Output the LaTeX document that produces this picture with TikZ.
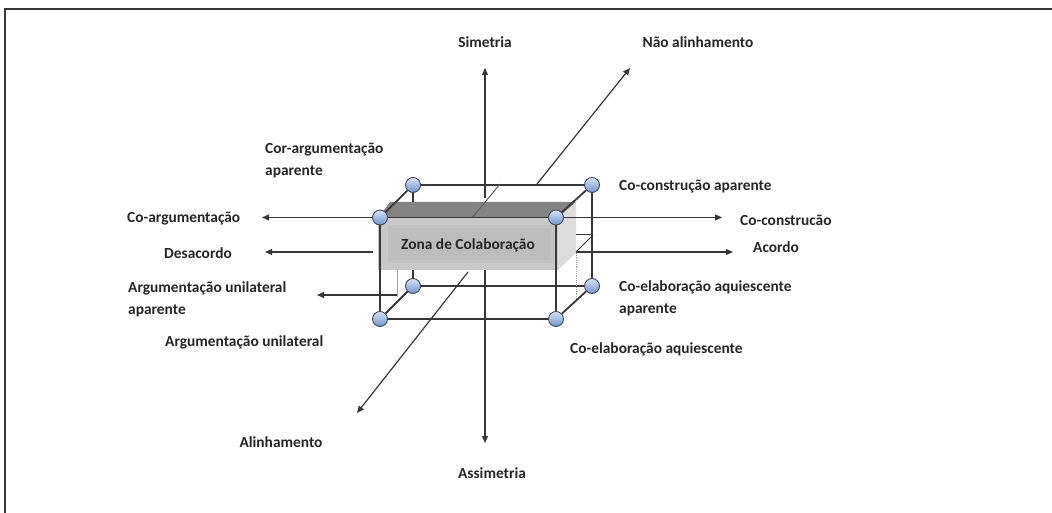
\documentclass[tikz,border=0pt]{standalone}
\usepackage{fontspec}
\setmainfont{Carlito}
\usetikzlibrary{arrows.meta}
\pgfdeclarelayer{axeslayer}
\pgfdeclarelayer{boxlayer}
\pgfdeclarelayer{edgelayer}
\pgfsetlayers{axeslayer,boxlayer,edgelayer,main}
\definecolor{txt}{RGB}{38,38,38}
\definecolor{edge}{RGB}{55,55,55}
\definecolor{topf}{RGB}{132,132,132}
\definecolor{frontf}{RGB}{200,200,200}
\definecolor{innerf}{RGB}{189,189,189}
\definecolor{sidef}{RGB}{220,220,220}
\definecolor{balltop}{RGB}{216,228,246}
\definecolor{ballbot}{RGB}{112,146,206}
\definecolor{ballrim}{RGB}{60,72,96}
\definecolor{faint}{RGB}{165,165,165}
\definecolor{seethru}{RGB}{95,95,95}
\begin{document}
\begin{tikzpicture}[x=1pt,y=-1pt,
  lbl/.style={font=\fontsize{15.4}{22}\selectfont\bfseries, text=txt, inner sep=0pt, align=left},
  axis/.style={draw=edge, line width=1.2pt, -{Triangle[length=7pt,width=6pt]}},
  cedge/.style={draw=edge, line width=1.8pt},
  ball/.style={circle, minimum size=15pt, inner sep=0pt, draw=ballrim, line width=0.9pt, top color=balltop, bottom color=ballbot}]
\useasboundingbox (0,0) rectangle (1052,513);

% balls (main layer, on top)
\node[ball] (ftl) at (380,217.5) {};
\node[ball] (ftr) at (556,217.5) {};
\node[ball] (fbr) at (556,319) {};
\node[ball] (fbl) at (380,319) {};
\node[ball] (btl) at (413,185) {};
\node[ball] (btr) at (592,185) {};
\node[ball] (bbr) at (592,286) {};
\node[ball] (bbl) at (413,286) {};

% axis coordinates
\coordinate (vtop) at (485,198);
\coordinate (vbot) at (485,270);
\coordinate (symtip) at (485,68);
\coordinate (asymtip) at (485,443);
\coordinate (dgup) at (537,184);
\coordinate (dglow) at (468,272);
\coordinate (natip) at (630,68);
\coordinate (altip) at (357,413);
\coordinate (desacfrom) at (373,252);
\coordinate (acordfrom) at (576,252);
\coordinate (desactip) at (265,252);
\coordinate (acordtip) at (733,252);
\coordinate (auafrom) at (397,295);
\coordinate (auatip) at (317,295);
\coordinate (coargtip) at (262,217.5);
\coordinate (coconstip) at (722,217.5);

\begin{pgfonlayer}{axeslayer}
\fill[white] (0,0) rectangle (1052,513);
\draw[line width=2pt, edge] (4.5,513) -- (4.5,9.5) -- (1052,9.5);
\draw[axis] (vtop) -- (symtip);
\draw[axis] (vbot) -- (asymtip);
\draw[axis] (dgup) -- (natip);
\draw[axis] (dglow) -- (altip);
\draw[axis] (desacfrom) -- (desactip);
\draw[axis] (acordfrom) -- (acordtip);
\draw[cedge] (btl) -- (btr);
\draw[cedge] (btr) -- (bbr);
\draw[cedge] (bbr) -- (bbl);
\draw[cedge] (bbl) -- (btl);
\draw[axis] (auafrom) -- (auatip);
\end{pgfonlayer}

\begin{pgfonlayer}{boxlayer}
\fill[topf] (378,218) -- (558,218) -- (576,202) -- (390,202) -- cycle;
\fill[frontf] (378,218) rectangle (558,270);
\fill[sidef] (558,218) -- (576,202) -- (576,253) -- (558,270) -- cycle;
\fill[innerf!60!frontf] (388,225) rectangle (554,263);
\fill[innerf] (391,228) rectangle (551,260);
\draw[faint, line width=0.8pt] (397,270) -- (397,297);
\draw[faint, line width=0.8pt, densely dotted] (576,253) -- (576,300);
\draw[seethru, line width=1pt] (500,184) -- (472,218);
\draw[edge, line width=1pt] (576,235) -- (593,235);
\draw[edge, line width=1pt] (576,252) -- (593,235);
\end{pgfonlayer}

\begin{pgfonlayer}{edgelayer}
\draw[cedge] (ftl) -- (ftr);
\draw[cedge] (ftr) -- (fbr);
\draw[cedge] (fbr) -- (fbl);
\draw[cedge] (fbl) -- (ftl);
\draw[cedge] (ftl) -- (btl);
\draw[cedge] (ftr) -- (btr);
\draw[cedge] (fbr) -- (bbr);
\draw[cedge] (fbl) -- (bbl);
\draw[axis] (ftl) -- (coargtip);
\draw[axis] (ftr) -- (coconstip);
\end{pgfonlayer}

% labels
\node[lbl] (zona) at (468,245) {Zona de Colaboração};
\node[lbl] (sim) at (485,42) {Simetria};
\node[lbl] (nao) at (698,42) {Não alinhamento};
\node[lbl] (alin) at (281,442) {Alinhamento};
\node[lbl] (assim) at (492,473) {Assimetria};
\node[lbl, anchor=west] (corarg) at (265,160) {Cor-argumentação\\aparente};
\node[lbl, anchor=west] (coarg) at (127,219) {Co-argumentação};
\node[lbl] (desac) at (198,253) {Desacordo};
\node[lbl, anchor=west] (argunap) at (128,299) {Argumentação unilateral\\aparente};
\node[lbl, anchor=west] (argun) at (165,342) {Argumentação unilateral};
\node[lbl, anchor=west] (coconsap) at (619,187) {Co-construção aparente};
\node[lbl, anchor=west] (cocons) at (740,220) {Co-construcão};
\node[lbl, anchor=west] (acordo) at (753,247) {Acordo};
\node[lbl, anchor=west] (coelap) at (619,298) {Co-elaboração aquiescente\\aparente};
\node[lbl, anchor=west] (coel) at (570,349) {Co-elaboração aquiescente};
\end{tikzpicture}
\end{document}
